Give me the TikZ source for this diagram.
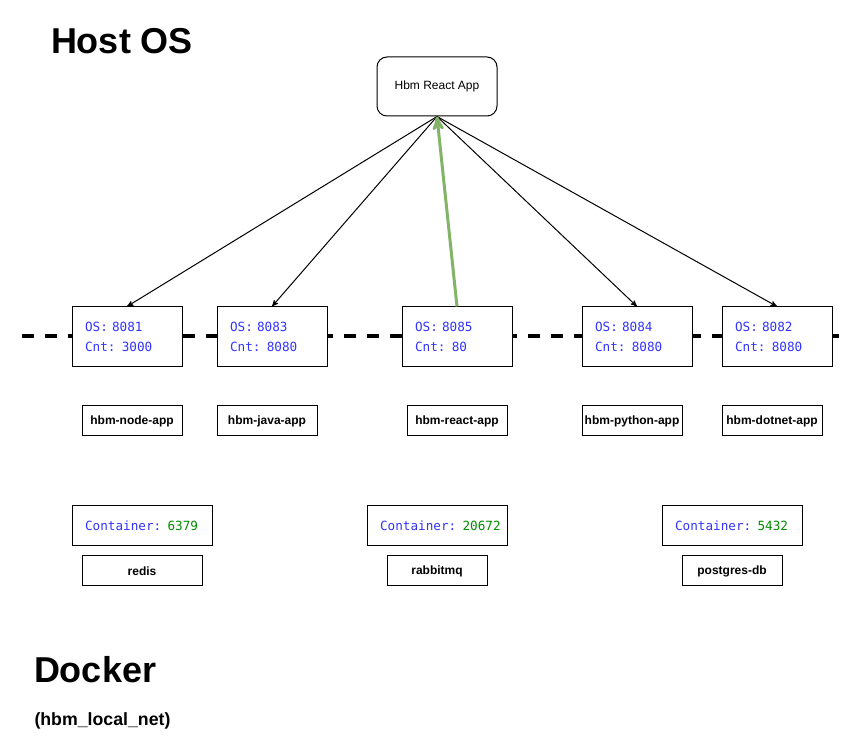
\documentclass[tikz,border=0pt]{standalone}
\usepackage{fontspec}
\setmainfont{Liberation Sans}
\setmonofont{DejaVu Sans Mono}
\usepackage{tikz}
\usetikzlibrary{arrows}
\definecolor{portblue}{RGB}{51,51,255}
\definecolor{portgreen}{RGB}{0,140,0}
\definecolor{linkgreen}{RGB}{130,179,102}
\newcommand{\cntport}[1]{\rlap{Container: \textcolor{portgreen}{#1}}}
\tikzset{
  box/.style = {draw=black, fill=white, inner sep=0pt, text centered},
  appbox/.style = {box, rounded corners=7.5pt, minimum width=90pt,
    minimum height=44.25pt, font=\fontsize{9}{11}\selectfont},% appli React
  portbox/.style = {box, minimum height=45pt, text width=63pt,
    inner xsep=9.75pt, align=left, text=portblue,
    font=\ttfamily\fontsize{9.5}{15}\selectfont},% ports OS / conteneur
  cntbox/.style = {portbox, minimum height=30pt, text width=85.5pt},% port conteneur seul
  namebox/.style = {box, minimum width=75pt, minimum height=22.5pt,
    font=\bfseries\fontsize{9}{11}\selectfont},% nom du conteneur
  title/.style = {anchor=base west, inner sep=0pt,
    font=\bfseries\fontsize{27}{31}\selectfont}
}
\begin{document}
\begin{tikzpicture}[x=0.75pt, y=-0.75pt, line width=0.75pt, ->, >=stealth']
\useasboundingbox (0,0) rectangle (865,755);

% reseau docker
\coordinate (netW) at (22,336);
\coordinate (netE) at (843,336);
\draw[-, line width=3pt, dash pattern=on 9pt off 8.25pt] (netW) -- (netE);

\node [title] (host) at (50.5,54) {Host OS};
\node [title] (docker) at (33.5,683) {Docker};
\node [title, font=\bfseries\fontsize{13.3}{15}\selectfont] (net) at (34,725) {(hbm\_local\_net)};

\node [appbox] (app) at (437,86.5) {Hbm React App};

% applis
\node [portbox] (pnode) at (127,337) {OS: 8081\\Cnt: 3000};
\node [portbox] (pjava) at (272,337) {OS: 8083\\Cnt: 8080};
\node [portbox] (preact) at (457,337) {OS: 8085\\Cnt: 80};
\node [portbox] (ppython) at (637,337) {OS: 8084\\Cnt: 8080};
\node [portbox] (pdotnet) at (777,337) {OS: 8082\\Cnt: 8080};

\node [namebox] (nnode) at (132,421) {hbm-node-app};
\node [namebox] (njava) at (267,421) {hbm-java-app};
\node [namebox] (nreact) at (457,421) {hbm-react-app};
\node [namebox] (npython) at (632,421) {hbm-python-app};
\node [namebox] (ndotnet) at (772,421) {hbm-dotnet-app};

% services
\node [cntbox] (credis) at (142,526) {\cntport{6379}};
\node [cntbox] (crabbit) at (437,526) {\cntport{20672}};
\node [cntbox] (cpg) at (732,526) {\cntport{5432}};

\node [namebox, minimum width=90pt] (nredis) at (142,571) {redis};
\node [namebox] (nrabbit) at (437,571) {rabbitmq};
\node [namebox] (npg) at (732,571) {postgres-db};

\draw (app.south) -- (pnode.north);
\draw (app.south) -- (pjava.north);
\draw (app.south) -- (ppython.north);
\draw (app.south) -- (pdotnet.north);
\draw [linkgreen, line width=2.25pt] (preact.north) -- (app.south);
\end{tikzpicture}
\end{document}
